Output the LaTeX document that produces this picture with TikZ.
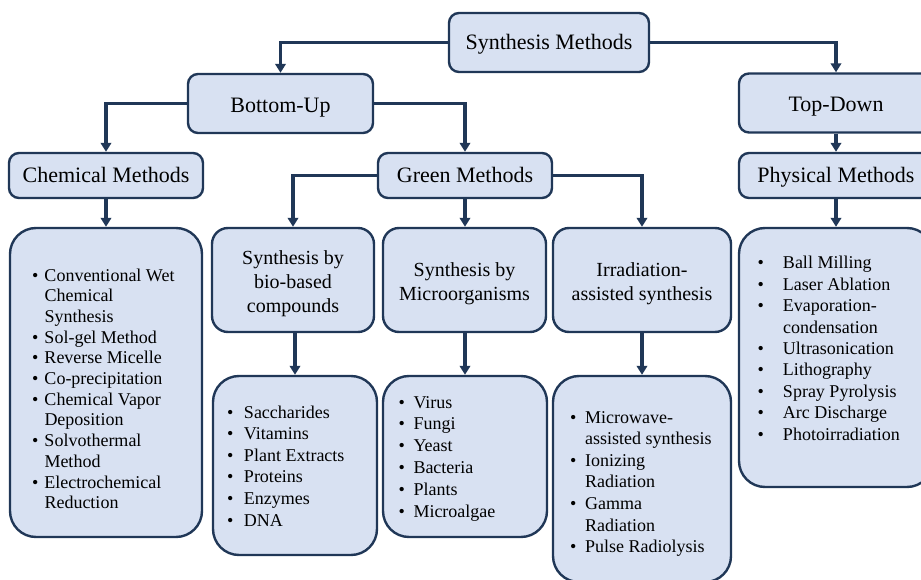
\documentclass[tikz,border=0pt]{standalone}
\usepackage{fontspec}
\setmainfont{Liberation Serif}
\usetikzlibrary{arrows.meta}
\definecolor{navy}{HTML}{203757}
\definecolor{boxfill}{HTML}{D8E1F2}
\newcommand{\blst}[2]{\begin{tabular}[t]{@{}l@{\hspace{#1pt}}l@{}}#2\end{tabular}}
\begin{document}
\begin{tikzpicture}[x=1pt,y=-1pt,
  box/.style={draw=navy, line width=2.4pt, fill=boxfill, inner sep=0pt, text=black},
  hbox/.style={box, rounded corners=10pt, font=\fontsize{22}{26}\selectfont, text height=15pt, text depth=0pt},
  sbox/.style={box, rounded corners=16pt},
  stext/.style={align=center, inner sep=0pt, text=black, font=\fontsize{20}{24}\selectfont},
  lbox/.style={box, rounded corners=26pt},
  ltext/.style={anchor=base west, inner sep=0pt, text=black},
  arr/.style={draw=navy, line width=3.2pt, -{Triangle[length=9pt,width=10.5pt]}}
]
\useasboundingbox (0,0) rectangle (921,580);
\clip (0,0) rectangle (921,580);

% header boxes
\node[hbox, minimum width=200pt, minimum height=59pt] (sm) at (549,42.5) {Synthesis Methods};
\node[hbox, minimum width=185pt, minimum height=59pt, text height=18pt] (bu) at (280.5,103.5) {Bottom-Up};
\node[hbox, minimum width=194pt, minimum height=59pt, text height=18pt] (td) at (836,103) {Top-Down};
\node[hbox, minimum width=194pt, minimum height=45pt] (cm) at (106,175.5) {Chemical Methods};
\node[hbox, minimum width=174pt, minimum height=45pt] (gm) at (465,175.5) {Green Methods};
\node[hbox, minimum width=194pt, minimum height=45pt] (pm) at (836,175.5) {Physical Methods};

% sub-header boxes
\node[sbox, minimum width=162pt, minimum height=104pt] (bio) at (293,280) {};
\node[sbox, minimum width=163pt, minimum height=104pt] (mic) at (464.5,280) {};
\node[sbox, minimum width=178pt, minimum height=104pt] (irr) at (642,280) {};
\node[stext] (biot) at ([yshift=-3.5pt]bio.center) {Synthesis by\\bio-based\\compounds};
\node[stext] (mict) at ([yshift=-3.5pt]mic.center) {Synthesis by\\Microorganisms};
\node[stext] (irrt) at ([yshift=-3.5pt]irr.center) {Irradiation-\\assisted synthesis};

% list boxes
\node[lbox, minimum width=192pt, minimum height=309pt] (chl) at (106,382.5) {};
\node[lbox, minimum width=194pt, minimum height=259pt] (phl) at (836,357.5) {};
\node[lbox, minimum width=164pt, minimum height=179pt] (bil) at (295,465.5) {};
\node[lbox, minimum width=164pt, minimum height=161pt] (mil) at (465,456.5) {};
\node[lbox, minimum width=178pt, minimum height=206pt] (irl) at (642,479) {};

% list texts
\node[ltext, font=\fontsize{18}{20.7}\selectfont] (chlt) at (32,281) {\blst{6}{%
\textbullet & Conventional Wet\\
 & Chemical\\
 & Synthesis\\
\textbullet & Sol-gel Method\\
\textbullet & Reverse Micelle\\
\textbullet & Co-precipitation\\
\textbullet & Chemical Vapor\\
 & Deposition\\
\textbullet & Solvothermal\\
 & Method\\
\textbullet & Electrochemical\\
 & Reduction}};
\node[ltext, font=\fontsize{18}{21.6}\selectfont] (bilt) at (227,418) {\blst{10.5}{%
\textbullet & Saccharides\\
\textbullet & Vitamins\\
\textbullet & Plant Extracts\\
\textbullet & Proteins\\
\textbullet & Enzymes\\
\textbullet & DNA}};
\node[ltext, font=\fontsize{18}{21.8}\selectfont] (milt) at (398.5,408) {\blst{8.5}{%
\textbullet & Virus\\
\textbullet & Fungi\\
\textbullet & Yeast\\
\textbullet & Bacteria\\
\textbullet & Plants\\
\textbullet & Microalgae}};
\node[ltext, font=\fontsize{18}{21.6}\selectfont] (irlt) at (570,423) {\blst{8.7}{%
\textbullet & Microwave-\\
 & assisted synthesis\\
\textbullet & Ionizing\\
 & Radiation\\
\textbullet & Gamma\\
 & Radiation\\
\textbullet & Pulse Radiolysis}};
\node[ltext, font=\fontsize{18}{21.4}\selectfont] (phlt) at (757.5,269) {\blst{19}{%
\textbullet & Ball Milling\\
\textbullet & Laser Ablation\\
\textbullet & Evaporation-\\
 & condensation\\
\textbullet & Ultrasonication\\
\textbullet & Lithography\\
\textbullet & Spray Pyrolysis\\
\textbullet & Arc Discharge\\
\textbullet & Photoirradiation}};

% connectors
\draw[arr] (sm.west) -| (bu.north);
\draw[arr] (sm.east) -| (td.north);
\draw[arr] (bu.west) -| (cm.north);
\draw[arr] (bu.east) -| (gm.north);
\draw[arr] (td.south) -- (pm.north);
\draw[arr] (gm.west) -| (bio.north);
\draw[arr] (gm.south) -- (gm.south |- mic.north);
\draw[arr] (gm.east) -| (irr.north);
\draw[arr] (cm.south) -- (chl.north);
\draw[arr] (pm.south) -- (phl.north);
\draw[arr] (bio.south -| bil.north) -- (bil.north);
\draw[arr] (mic.south -| mil.north) -- (mil.north);
\draw[arr] (irr.south) -- (irl.north);
\end{tikzpicture}
\end{document}
